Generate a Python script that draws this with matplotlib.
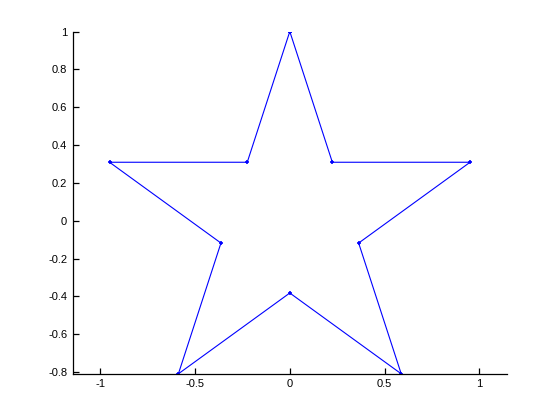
import matplotlib as mpl
import matplotlib.pyplot as plt

# star vertices (outer radius 1, inner ~0.382), closed
star_x = [0.0, 0.2245, 0.9511, 0.3633, 0.5878, 0.0, -0.5878, -0.3633, -0.9511, -0.2245, 0.0]
star_y = [1.0, 0.3090, 0.3090, -0.1180, -0.8090, -0.3820, -0.8090, -0.1180, 0.3090, 0.3090, 1.0]

x_ticks = [-1, -0.5, 0, 0.5, 1]
x_tick_labels = ["-1", "-0.5", "0", "0.5", "1"]
y_ticks = [-0.8, -0.6, -0.4, -0.2, 0, 0.2, 0.4, 0.6, 0.8, 1]
y_tick_labels = ["-0.8", "-0.6", "-0.4", "-0.2", "0", "0.2", "0.4", "0.6", "0.8", "1"]

mpl.rcParams['font.family'] = ['Liberation Sans', 'DejaVu Sans']

fig = plt.figure(figsize=(5.6, 4.2), dpi=100)
ax = fig.add_axes([0.13, 0.11, 0.775, 0.815])

ax.plot(star_x, star_y, color="#0000ff", linewidth=0.8,
        marker="+", markersize=3.5, markeredgewidth=1.2)

ax.set_xlim(-1.145, 1.145)
ax.set_ylim(-0.809, 1.0)
ax.set_xticks(x_ticks)
ax.set_xticklabels(x_tick_labels)
ax.set_yticks(y_ticks)
ax.set_yticklabels(y_tick_labels)

ax.spines['top'].set_visible(False)
ax.spines['right'].set_visible(False)
ax.spines['left'].set_linewidth(0.9)
ax.spines['bottom'].set_linewidth(0.9)
ax.tick_params(direction="in", length=4, width=0.9, labelsize=8, pad=4)

fig.savefig("out.png", dpi=100)
